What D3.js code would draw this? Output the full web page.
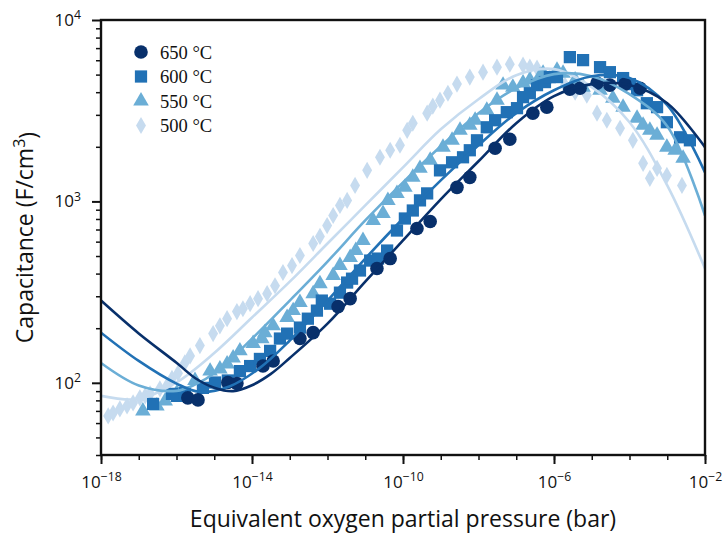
<!DOCTYPE html>
<html>
<head>
<meta charset="utf-8">
<script src="https://cdn.jsdelivr.net/npm/d3@7"></script>
<style>
  body { margin: 0; background: #fff; }
  svg { display: block; }
  .axis text { font-family: "Open Sans", sans-serif; font-size: 17px; fill: #111; }
  .title { font-family: "Open Sans", sans-serif; font-size: 23px; fill: #111; }
  .legend text { font-family: "Liberation Serif", serif; font-size: 18.5px; fill: #111; }
</style>
</head>
<body>
<div id="chart"></div>
<script>
// series labels and colours
const seriesNames = ["650 °C", "600 °C", "550 °C", "500 °C"];
const seriesColors = ["#08306b", "#2171b5", "#6baed6", "#c6dbef"];

// measured points: [log10 pO2 (bar), capacitance (F/cm3)]
const pts650 = [[-15.70, 82.6], [-15.43, 80.5], [-14.64, 100.4], [-14.40, 99.1], [-13.71, 123.7], [-13.44, 132],
  [-12.73, 175.4], [-12.38, 189], [-11.72, 263], [-11.40, 291], [-10.69, 427], [-10.34, 484], [-9.63, 709],
  [-9.28, 775], [-8.57, 1195], [-8.23, 1357], [-7.56, 1963], [-7.17, 2200], [-6.56, 3064], [-6.19, 3308],
  [-5.58, 4155], [-5.31, 4208], [-4.86, 4489], [-4.52, 4375], [-4.12, 4433], [-3.72, 4208]];
const pts600 = [[-16.62, 76.5], [-16.12, 86.9], [-15.99, 84.7], [-15.78, 88], [-15.30, 93.8], [-14.98, 100.4],
  [-14.64, 103], [-14.32, 116], [-14.05, 123.7], [-13.79, 135.4], [-13.52, 150], [-13.26, 175.4], [-13.07, 186.7],
  [-12.73, 201.6], [-12.52, 225.7], [-12.28, 250], [-12.15, 284], [-11.93, 273], [-11.67, 314], [-11.48, 357],
  [-11.35, 375], [-11.14, 416], [-10.87, 472], [-10.66, 484], [-10.42, 536], [-10.16, 691], [-9.95, 805],
  [-9.74, 891], [-9.55, 1013], [-9.36, 1107], [-9.02, 1483], [-8.70, 1643], [-8.41, 1751], [-8.23, 1914],
  [-8.04, 2172], [-7.78, 2562], [-7.56, 2802], [-7.25, 3104], [-6.98, 3266], [-6.82, 3755], [-6.64, 3948],
  [-6.45, 4375], [-6.24, 4547], [-6.11, 4846], [-5.92, 4846], [-5.58, 6242], [-5.23, 6008], [-4.78, 5496],
  [-4.52, 5157], [-4.17, 4784], [-3.99, 4433], [-3.80, 4102], [-3.54, 3478], [-3.27, 3308], [-3.01, 2732],
  [-2.66, 2257], [-2.40, 2172]];
const pts550 = [[-16.89, 70.0], [-16.52, 74.6], [-16.30, 79.5], [-15.99, 88], [-15.51, 103], [-15.11, 116],
  [-14.85, 119], [-14.66, 127], [-14.50, 137], [-14.32, 150], [-13.97, 164.6], [-13.74, 175], [-13.66, 189],
  [-13.44, 206], [-13.07, 229], [-12.91, 250], [-12.73, 277], [-12.38, 310], [-12.20, 352], [-11.85, 390],
  [-11.67, 443], [-11.40, 490], [-11.25, 536], [-11.06, 609], [-10.79, 785], [-10.53, 858], [-10.40, 1013],
  [-10.16, 1107], [-9.95, 1195], [-9.74, 1357], [-9.55, 1521], [-9.28, 1685], [-8.94, 1989], [-8.70, 2172],
  [-8.49, 2466], [-8.23, 2629], [-8.09, 2802], [-7.78, 3184], [-7.51, 3614], [-7.35, 4375], [-7.09, 4262],
  [-6.82, 4489], [-6.64, 4664], [-6.37, 4907], [-6.29, 5091], [-5.92, 5290], [-5.76, 5091], [-5.44, 4664],
  [-5.23, 4262], [-4.78, 4102], [-4.44, 3707], [-4.17, 3308], [-3.80, 2874], [-3.64, 2629], [-3.46, 2466],
  [-3.27, 2313], [-3.01, 1989], [-2.79, 1914], [-2.58, 1728]];
const pts500 = [[-17.81, 65.7], [-17.68, 68.2], [-17.50, 71.8], [-17.31, 74.6], [-17.15, 77.5], [-16.97, 82.6],
  [-16.83, 84.7], [-16.70, 86.9], [-16.44, 92.6], [-16.25, 96.6], [-16.12, 105.7], [-15.96, 113], [-15.78, 128.7],
  [-15.64, 140.7], [-15.38, 160.4], [-15.03, 186.7], [-14.85, 206], [-14.66, 225.7], [-14.40, 247], [-14.24, 256],
  [-14.05, 273], [-13.84, 291], [-13.60, 310], [-13.39, 343], [-13.18, 405.5], [-12.94, 443], [-12.73, 503],
  [-12.38, 586], [-12.20, 641], [-12.01, 736], [-11.85, 836], [-11.67, 950], [-11.48, 1013], [-11.27, 1225],
  [-10.95, 1483], [-10.61, 1751], [-10.34, 1914], [-10.08, 2040], [-9.89, 2466], [-9.74, 2697], [-9.36, 3064],
  [-9.21, 3350], [-9.02, 3614], [-8.81, 3948], [-8.57, 4433], [-8.23, 4846], [-7.88, 5157], [-7.51, 5496],
  [-7.17, 5711], [-6.82, 5636], [-6.64, 5496], [-6.45, 5426], [-6.11, 4784], [-5.71, 4375], [-5.44, 3999],
  [-5.13, 3848], [-4.86, 3064], [-4.60, 2802], [-4.25, 2530], [-3.91, 2172], [-3.64, 1622], [-3.46, 1340],
  [-3.27, 1521], [-3.01, 1391], [-2.61, 1225]];

// fitted curves, read at each decade
const fit650 = [[-18, 284], [-17, 187], [-16, 129], [-15.5, 106], [-15, 94], [-14.5, 90], [-14, 97], [-13.5, 112],
  [-13, 137], [-12, 212], [-11, 361], [-10, 609], [-9, 1026], [-8, 1664], [-7, 2697], [-6, 3803], [-5, 4433],
  [-4, 4377], [-3, 3479], [-2, 1987]];
const fit600 = [[-18, 189], [-17, 132], [-16, 99], [-15.4, 89.2], [-14.6, 95.5], [-13.8, 120.5], [-13, 171],
  [-12, 284], [-11, 484], [-10, 805], [-9, 1306], [-8, 2038], [-7, 3065], [-6, 4102], [-5, 4901], [-4, 4784],
  [-3, 3391], [-2, 1446]];
const fit550 = [[-18, 128.7], [-17, 96.7], [-16, 90.3], [-15.5, 98], [-15, 113], [-14, 175], [-13, 284],
  [-12, 466], [-11, 785], [-10, 1273], [-9, 2012], [-8, 3065], [-7, 4208], [-6, 5029], [-5, 4901], [-4, 3899],
  [-3, 2596], [-2, 836]];
const fit500 = [[-18, 84.8], [-17, 81.5], [-16, 100.5], [-15, 146], [-14, 229], [-13, 361], [-12, 586],
  [-11, 950], [-10, 1541], [-9, 2497], [-8, 3660], [-7, 4963], [-6, 5358], [-5, 4267], [-4, 2732],
  [-3, 1225], [-2, 427]];

const points = [pts650, pts600, pts550, pts500];
const fits = [fit650, fit600, fit550, fit500];
const xMajor = [-18, -14, -10, -6, -2];
const yMajor = [2, 3, 4];

const width = 724, height = 534;
const margin = { top: 20, right: 19, bottom: 79, left: 101 };

const svg = d3.select("#chart").append("svg").attr("width", width).attr("height", height);

const x = d3.scaleLog().domain([1e-18, 1e-2]).range([margin.left, width - margin.right]);
const y = d3.scaleLog().domain([40, 1e4]).range([height - margin.bottom, margin.top]);

const px = d => x(Math.pow(10, d[0]));
const py = d => y(d[1]);

const plot = svg.append("g");
plot.append("clipPath").attr("id", "clip").append("rect")
  .attr("x", margin.left).attr("y", margin.top)
  .attr("width", width - margin.left - margin.right)
  .attr("height", height - margin.top - margin.bottom);

const symbols = [
  d3.symbol().type(d3.symbolCircle).size(145),
  d3.symbol().type(d3.symbolSquare).size(150),
  d3.symbol().type(d3.symbolTriangle).size(105),
  d3.symbol().type(d3.symbolDiamond).size(85)
];

// points, lightest first
[3, 2, 1, 0].forEach(i => {
  plot.append("g").selectAll("path").data(points[i]).join("path")
    .attr("d", symbols[i])
    .attr("transform", d => `translate(${px(d)},${py(d)})`)
    .attr("fill", seriesColors[i]);
});

const line = d3.line().x(px).y(py).curve(d3.curveCatmullRom.alpha(0.5));
[3, 2, 1, 0].forEach(i => {
  plot.append("path").datum(fits[i])
    .attr("clip-path", "url(#clip)")
    .attr("d", line)
    .attr("fill", "none")
    .attr("stroke", seriesColors[i])
    .attr("stroke-width", 2.6);
});

function sup(sel) {
  sel.each(function (d) {
    const e = Math.round(Math.log10(d));
    const t = d3.select(this).text("10");
    t.append("tspan").attr("dy", "-0.55em").attr("font-size", "0.72em")
      .text(e < 0 ? "\u2212" + (-e) : e);
  });
}

// x axis
const xMinor = d3.range(-18, -1).map(e => Math.pow(10, e));
svg.append("g").attr("class", "axis")
  .attr("transform", `translate(0,${height - margin.bottom})`)
  .call(d3.axisBottom(x).tickValues(xMinor).tickSize(5).tickFormat(""))
  .call(g => g.select(".domain").remove())
  .selectAll("line").attr("stroke", "#111").attr("stroke-width", 1.5);
const gx = svg.append("g").attr("class", "axis")
  .attr("transform", `translate(0,${height - margin.bottom})`)
  .call(d3.axisBottom(x).tickValues(xMajor.map(e => Math.pow(10, e))).tickSize(9).tickPadding(12));
gx.select(".domain").remove();
gx.selectAll("line").attr("stroke", "#111").attr("stroke-width", 2);
gx.selectAll(".tick text").call(sup);

// y axis
const yMinor = [];
[1, 2, 3].forEach(e => d3.range(2, 10).forEach(m => { const v = m * Math.pow(10, e); if (v >= 40) yMinor.push(v); }));
svg.append("g").attr("class", "axis")
  .attr("transform", `translate(${margin.left},0)`)
  .call(d3.axisLeft(y).tickValues(yMinor).tickSize(5).tickFormat(""))
  .call(g => g.select(".domain").remove())
  .selectAll("line").attr("stroke", "#111").attr("stroke-width", 1.5);
const gy = svg.append("g").attr("class", "axis")
  .attr("transform", `translate(${margin.left},0)`)
  .call(d3.axisLeft(y).tickValues(yMajor.map(e => Math.pow(10, e))).tickSize(9).tickPadding(11));
gy.select(".domain").remove();
gy.selectAll("line").attr("stroke", "#111").attr("stroke-width", 2);
gy.selectAll(".tick text").call(sup);

// frame
svg.append("rect")
  .attr("x", margin.left).attr("y", margin.top)
  .attr("width", width - margin.left - margin.right)
  .attr("height", height - margin.top - margin.bottom)
  .attr("fill", "none").attr("stroke", "#111").attr("stroke-width", 2.4);

// titles
svg.append("text").attr("class", "title")
  .attr("x", (margin.left + width - margin.right) / 2).attr("y", 527)
  .attr("text-anchor", "middle")
  .text("Equivalent oxygen partial pressure (bar)");
const yt = svg.append("text").attr("class", "title")
  .attr("transform", `translate(33,${(margin.top + height - margin.bottom) / 2}) rotate(-90)`)
  .attr("text-anchor", "middle")
  .text("Capacitance (F/cm");
yt.append("tspan").attr("dy", "-0.5em").attr("font-size", "0.7em").text("3");
yt.append("tspan").attr("dy", "0.5em").text(")");

// legend
const legend = svg.append("g").attr("class", "legend").attr("transform", "translate(141,52)");
seriesNames.forEach((name, i) => {
  const row = legend.append("g").attr("transform", `translate(0,${i * 24.5})`);
  row.append("path").attr("d", symbols[i]).attr("fill", seriesColors[i]);
  row.append("text").attr("x", 19).attr("y", 6.5).text(name);
});
</script>
</body>
</html>
